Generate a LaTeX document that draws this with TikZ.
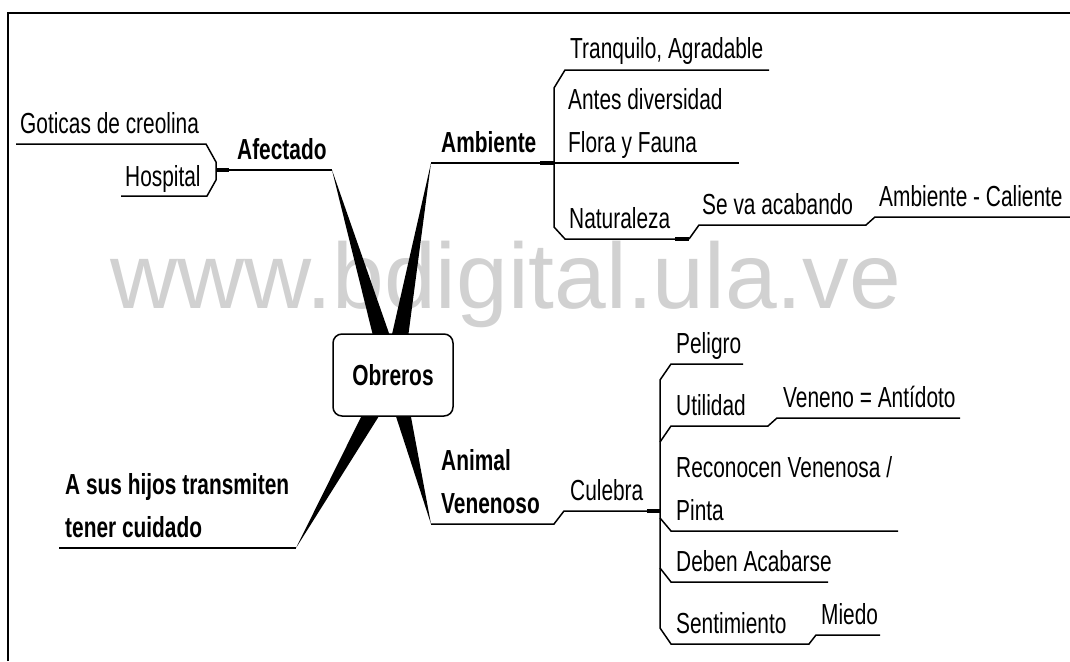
\documentclass[tikz,border=0pt]{standalone}
\usepackage{fontspec}
\setmainfont{Liberation Sans}[FakeStretch=0.72]
\newfontfamily\wmfont{Liberation Sans}
\usetikzlibrary{calc}

\begin{document}
\begin{tikzpicture}[x=1pt,y=-1pt,
   font=\fontsize{29}{43}\selectfont,
   branch/.style={line width=1.5pt},
   stub/.style={line width=3.5pt},
   lbl/.style={anchor=base west,inner sep=0pt,align=left},
   head/.style={lbl,font=\fontsize{29}{43}\selectfont\bfseries},
   hubbox/.style={draw,line width=1.5pt,fill=white,rounded corners=9pt,
      minimum width=120pt,minimum height=82pt,font=\fontsize{29}{43}\selectfont\bfseries},
   wmark/.style={anchor=base west,inner sep=0pt,text=black!18,
      font=\wmfont\fontsize{93}{93}\selectfont}]

   \useasboundingbox (0,0) rectangle (1070,661);
   \draw[line width=2.5pt] (8,661) -- (8,13) -- (1070,13);

   \node[wmark] (wm) at (110,308) {www.bdigital.ula.ve};

   % points of the branches
   \foreach \n/\x/\y in {hub/393/375,
      tipAf/332/170, afL/229/170, afB/216/170, got/206/144, gotL/16/144,
      brA/216/162, brB/216/180, hos/207/196, hosL/121/196,
      tipAm/431/163, amR/540/163, amB/554/163, tra/565/70, traR/769/70,
      bcA/554/88, bcB/554/227, antR/739/163, nat/565/239, natR/675/239,
      natS/689/239, seva/699/225, sevaR/866/225, cal/875/217, calR/1070/217,
      tipHi/296/548, hiL/59/548,
      tipAn/431/524, anR/554/524, cul/564/511, culR/647/511, culB/660/511,
      pel/671/364, pelR/743/364, bdA/660/380, bdB/660/628,
      utA/660/442, ut/671/426, utR/768/426, ven/777/418, venR/960/418,
      reA/660/518, re/671/531, reR/898/531, deA/660/568, de/671/582, deR/828/582,
      se/671/644, seR/809/644, mi/816/635, miR/880/635} {
      \coordinate (\n) at (\x,\y);
   }

   \foreach \t in {tipAf,tipAm,tipHi,tipAn} {
      \fill (\t) -- ($(hub)!10pt!90:(\t)$) -- ($(hub)!10pt!-90:(\t)$) -- cycle;
   }
   \node[hubbox] (obreros) at (hub) {Obreros};

   % Afectado
   \draw[branch] (afL) -- (tipAf);
   \draw[stub] (afB) -- (afL);
   \draw[branch] (gotL) -- (got) -- (brA) -- (brB) -- (hos) -- (hosL);
   \node[head] (afectado) at (237,159) {Afectado};
   \node[lbl] (goticas) at (20,133) {Goticas de creolina};
   \node[lbl] (hospital) at (125,186) {Hospital};

   % Ambiente
   \draw[branch] (tipAm) -- (amR);
   \draw[stub] (amR) -- (amB);
   \draw[branch] (traR) -- (tra) -- (bcA) -- (bcB) -- (nat) -- (natR);
   \draw[branch] (amB) -- (antR);
   \draw[stub] (natR) -- (natS);
   \draw[branch] (natS) -- (seva) -- (sevaR) -- (cal) -- (calR);
   \node[head] (ambiente) at (441,152) {Ambiente};
   \node[lbl] (tranquilo) at (570,59) {Tranquilo, Agradable};
   \node[lbl] (antes) at (568,152) {Antes diversidad\\Flora y Fauna};
   \node[lbl] (naturaleza) at (569,228) {Naturaleza};
   \node[lbl] (acabando) at (702,214) {Se va acabando};
   \node[lbl] (caliente) at (879,206) {Ambiente - Caliente};

   % hijos
   \draw[branch] (hiL) -- (tipHi);
   \node[head] (hijos) at (65,537) {A sus hijos transmiten\\tener cuidado};

   % Animal Venenoso
   \draw[branch] (tipAn) -- (anR) -- (cul) -- (culR);
   \draw[stub] (culR) -- (culB);
   \draw[branch] (pelR) -- (pel) -- (bdA) -- (bdB) -- (se) -- (seR) -- (mi) -- (miR);
   \draw[branch] (utA) -- (ut) -- (utR) -- (ven) -- (venR);
   \draw[branch] (reA) -- (re) -- (reR);
   \draw[branch] (deA) -- (de) -- (deR);
   \node[head] (animal) at (441,513) {Animal\\Venenoso};
   \node[lbl] (culebra) at (570,500) {Culebra};
   \node[lbl] (peligro) at (676,353) {Peligro};
   \node[lbl] (utilidad) at (676,415) {Utilidad};
   \node[lbl] (veneno) at (783,407) {Veneno = Antídoto};
   \node[lbl] (reconocen) at (676,520) {Reconocen Venenosa /\\Pinta};
   \node[lbl] (deben) at (676,571) {Deben Acabarse};
   \node[lbl] (sentimiento) at (676,633) {Sentimiento};
   \node[lbl] (miedo) at (821,624) {Miedo};

\end{tikzpicture}
\end{document}
